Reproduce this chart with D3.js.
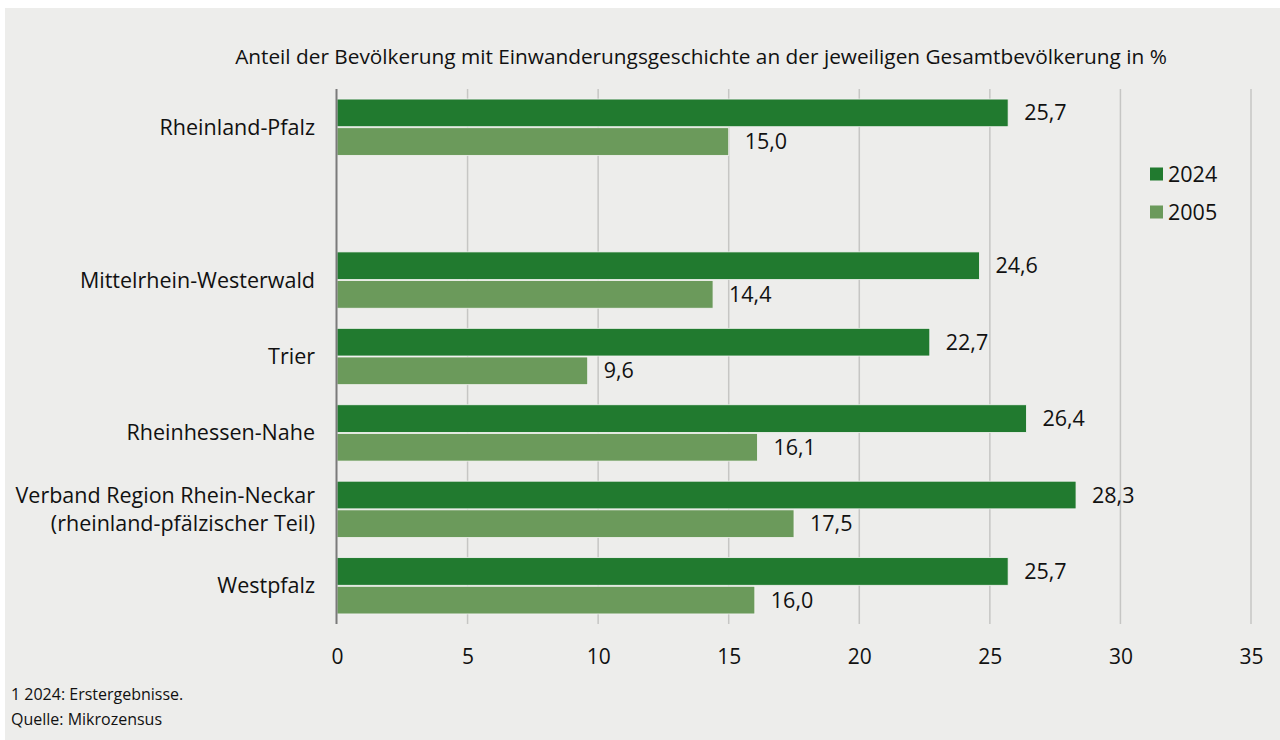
<!DOCTYPE html>
<html>
<head>
<meta charset="utf-8">
<script src="https://cdn.jsdelivr.net/npm/d3@7"></script>
<style>
  body { margin: 0; background: #ffffff; }
  svg { display: block; font-family: "Open Sans", "Noto Sans", sans-serif; }
</style>
</head>
<body>
<div id="chart"></div>
<script>
// Regions ("gap" is the empty slot below Rheinland-Pfalz)
const categories = ["Rheinland-Pfalz", "gap", "Mittelrhein-Westerwald", "Trier", "Rheinhessen-Nahe",
  "Verband Region Rhein-Neckar\n(rheinland-pfälzischer Teil)", "Westpfalz"];
const series = ["2024", "2005"];
const values2024 = [25.7, null, 24.6, 22.7, 26.4, 28.3, 25.7];
const values2005 = [15.0, null, 14.4, 9.6, 16.1, 17.5, 16.0];
const xTicks = [0, 5, 10, 15, 20, 25, 30, 35];
const title = "Anteil der Bevölkerung mit Einwanderungsgeschichte an der jeweiligen Gesamtbevölkerung in %";
const footnotes = ["1 2024: Erstergebnisse.", "Quelle: Mikrozensus"];

const colors = { "2024": "#217a2f", "2005": "#6b9a5b" };
const W = 1280, H = 740;
const fontSize = 21.5;

const svg = d3.select("#chart").append("svg")
  .attr("width", W).attr("height", H);

// gray panel with white edge at top/left
svg.append("rect").attr("x", 5).attr("y", 8).attr("width", W - 5).attr("height", H - 8)
  .attr("fill", "#ededeb");

const x = d3.scaleLinear().domain([0, 35]).range([337, 1251]);
const y = d3.scaleBand().domain(categories).range([89, 624]).paddingInner(0.25).paddingOuter(0.125);
const ySub = d3.scaleBand().domain(series).range([0, y.bandwidth()]);

// gridlines
svg.append("g").selectAll("line").data(xTicks.slice(1)).enter().append("line")
  .attr("x1", d => x(d)).attr("x2", d => x(d))
  .attr("y1", 89).attr("y2", 624)
  .attr("stroke", "#c6c6c4").attr("stroke-width", 1.5);

// bars
const rows = categories.map((c, i) => ({ cat: c, "2024": values2024[i], "2005": values2005[i] }))
  .filter(d => d["2024"] != null);

const groups = svg.append("g").selectAll("g").data(rows).enter().append("g")
  .attr("transform", d => `translate(0,${y(d.cat)})`);

groups.selectAll("rect").data(d => series.map(s => ({ s, v: d[s] }))).enter().append("rect")
  .attr("x", x(0))
  .attr("y", d => ySub(d.s) + 0.5)
  .attr("width", d => x(d.v) - x(0))
  .attr("height", ySub.bandwidth() - 1)
  .attr("fill", d => colors[d.s])
  .attr("stroke", "#f4f4f2").attr("stroke-width", 0.8);

groups.selectAll("text.val").data(d => series.map(s => ({ s, v: d[s] }))).enter().append("text")
  .attr("class", "val")
  .attr("x", d => x(d.v) + 16)
  .attr("y", d => ySub(d.s) + ySub.bandwidth() / 2)
  .attr("dy", "0.35em")
  .attr("font-size", fontSize)
  .attr("fill", "#111")
  .text(d => d3.format(".1f")(d.v).replace(".", ","));

// category labels
const labels = svg.append("g").selectAll("text").data(rows).enter().append("text")
  .attr("text-anchor", "end")
  .attr("font-size", fontSize)
  .attr("fill", "#111")
  .attr("transform", d => `translate(315,${y(d.cat) + y.bandwidth() / 2})`);
labels.each(function (d) {
  const lines = d.cat.split("\n");
  const t = d3.select(this);
  lines.forEach((l, i) => {
    t.append("tspan").attr("x", 0)
      .attr("y", (i - (lines.length - 1) / 2) * 28)
      .attr("dy", "0.35em")
      .text(l);
  });
});

// x axis
const xAxis = d3.axisBottom(x).tickValues(xTicks).tickSize(0).tickPadding(0);
const ax = svg.append("g").attr("transform", "translate(0,657)").call(xAxis);
ax.select(".domain").remove();
ax.selectAll("text").attr("font-size", 21).attr("fill", "#111")
  .attr("font-family", "\"Open Sans\", \"Noto Sans\", sans-serif").attr("dy", "0.35em");

// vertical axis line at 0
svg.append("line").attr("x1", x(0) - 0.5).attr("x2", x(0) - 0.5)
  .attr("y1", 89).attr("y2", 624)
  .attr("stroke", "#7a7a7a").attr("stroke-width", 2);

// title
svg.append("text").attr("x", 701).attr("y", 64).attr("text-anchor", "middle")
  .attr("font-size", 20.8).attr("fill", "#111").text(title);

// legend
const legend = svg.append("g").selectAll("g").data(series).enter().append("g")
  .attr("transform", (d, i) => `translate(1150,${174 + i * 38})`);
legend.append("rect").attr("x", 0).attr("y", -6.5).attr("width", 13).attr("height", 13)
  .attr("fill", d => colors[d]);
legend.append("text").attr("x", 18).attr("dy", "0.35em").attr("font-size", fontSize)
  .attr("fill", "#111").text(d => d);

// footnotes
svg.append("g").selectAll("text").data(footnotes).enter().append("text")
  .attr("x", 11).attr("y", (d, i) => 700 + i * 25)
  .attr("font-size", 16).attr("fill", "#111").text(d => d);
</script>
</body>
</html>
